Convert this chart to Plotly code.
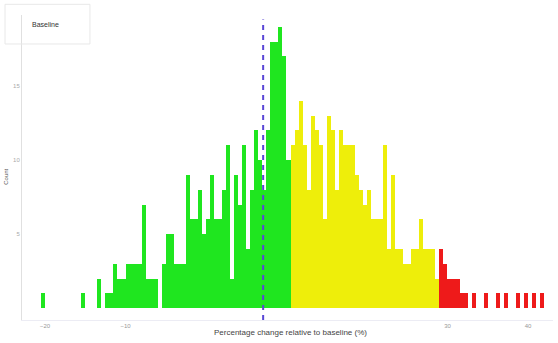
import numpy as np
import plotly.graph_objects as go

# Histogram of simulated outcomes: bins of 0.5 percentage points starting at -20.5
BIN_START = -20.5
BIN_WIDTH = 0.5
counts = [
    1, 0, 0, 0, 0, 0, 0, 0, 0, 0,      # -20.5 .. -15.5
    1, 0, 0, 0, 2, 0, 1, 1, 3, 2,      # -15.5 .. -10.5
    2, 3, 3, 3, 3, 7, 2, 2, 2, 0,      # -10.5 .. -5.5
    3, 5, 5, 3, 3, 3, 9, 6, 6, 8,      # -5.5 .. -0.5
    5, 6, 9, 6, 6, 8, 11, 2, 9, 7,     # -0.5 .. 4.5
    11, 4, 8, 12, 10, 8, 12, 18, 18, 19,  # 4.5 .. 9.5
    17, 10, 11, 12, 14, 11, 8, 13, 12, 11,  # 9.5 .. 14.5
    6, 13, 12, 8, 12, 11, 11, 11, 9, 8,   # 14.5 .. 19.5
    7, 8, 6, 6, 6, 11, 4, 9, 4, 4,       # 19.5 .. 24.5
    3, 3, 4, 4, 6, 4, 4, 4, 2, 4,        # 24.5 .. 29.5
    3, 2, 2, 2, 1, 1, 0, 1, 0, 0,        # 29.5 .. 34.5
    1, 0, 0, 1, 0, 1, 0, 0, 1, 0,        # 34.5 .. 39.5
    1, 0, 1, 0, 1,                       # 39.5 .. 42.0
]

# Colour bands and the reference marker (percentage change)
GREEN_MAX = 10.5
RED_MIN = 29.0
reference_value = 7.1

x_ticks = [-20, -10, 30, 40]
y_ticks = [5, 10, 15]

band_colors = {"green": "#1fe61f", "yellow": "#eeee0a", "red": "#ee1a1a"}

edges = BIN_START + BIN_WIDTH * np.arange(len(counts))
centers = edges + BIN_WIDTH / 2


def band(left_edge):
    if left_edge < GREEN_MAX:
        return band_colors["green"]
    if left_edge < RED_MIN:
        return band_colors["yellow"]
    return band_colors["red"]


colors = [band(e) for e in edges]

fig = go.Figure()
fig.add_trace(go.Bar(
    x=centers,
    y=counts,
    width=BIN_WIDTH,
    marker=dict(color=colors, line=dict(width=0)),
    showlegend=False,
    hoverinfo="x+y",
))

# dashed reference line spanning the plot height
fig.add_shape(
    type="line", xref="x", yref="paper",
    x0=reference_value, x1=reference_value, y0=0, y1=0.985,
    line=dict(color="#5a46d6", width=2, dash="5px,5px"),
)

# legend-style box in the upper left corner
fig.add_shape(
    type="rect", xref="paper", yref="paper",
    x0=-0.032, x1=0.128, y0=0.905, y1=1.035,
    line=dict(color="#e8e8e8", width=1), fillcolor="rgba(0,0,0,0)",
)
fig.add_annotation(
    xref="paper", yref="paper", x=0.015, y=0.97,
    xanchor="left", yanchor="middle", showarrow=False,
    text="Baseline", font=dict(size=7, color="#333333", family="Liberation Sans"),
)

# axis titles
fig.add_annotation(
    xref="paper", yref="paper", x=0.505, y=-0.04,
    xanchor="center", yanchor="middle", showarrow=False,
    text="Percentage change relative to baseline (%)",
    font=dict(size=8, color="#444444", family="Liberation Sans"),
)
fig.add_annotation(
    xref="paper", yref="paper", x=-0.03, y=0.47,
    xanchor="center", yanchor="middle", showarrow=False, textangle=-90,
    text="Count", font=dict(size=6, color="#555555", family="Liberation Sans"),
)

fig.update_layout(
    width=558, height=343,
    margin=dict(l=22, r=5, t=15, b=23),
    paper_bgcolor="white", plot_bgcolor="white",
    bargap=0,
    font=dict(family="Liberation Sans", size=6, color="#999999"),
)
fig.update_xaxes(
    range=[-22.86, 43.11],
    tickvals=x_ticks, ticks="", showgrid=False, zeroline=False,
    showline=True, linecolor="#ececf4", linewidth=1,
    tickfont=dict(size=6, color="#999999"),
)
fig.update_yaxes(
    range=[-0.8, 19.8],
    tickvals=y_ticks, ticks="", showgrid=False, zeroline=False,
    showline=True, linecolor="#e0e0e0", linewidth=1,
    tickfont=dict(size=6, color="#aaaaaa"),
)

fig.write_html("out.html")
